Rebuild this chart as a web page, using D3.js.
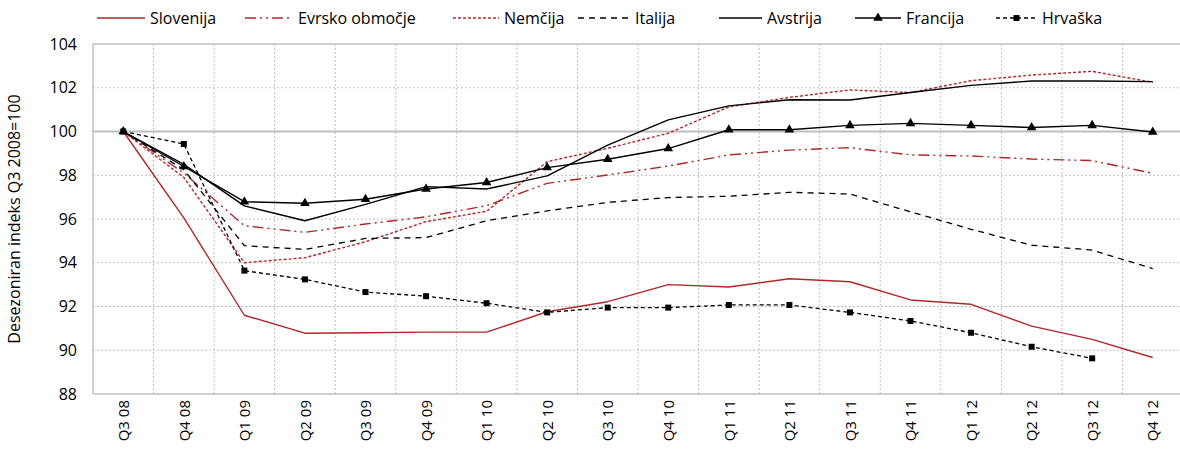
<!DOCTYPE html>
<html><head><meta charset="utf-8">
<script src="https://cdn.jsdelivr.net/npm/d3@7"></script>
<style>
html,body{margin:0;padding:0;background:#fff;}
svg{display:block;font-family:"Open Sans","Noto Sans",sans-serif;}
</style></head>
<body><svg id="c" width="1180" height="452"></svg>
<script>
const categories = ["Q3 08","Q4 08","Q1 09","Q2 09","Q3 09","Q4 09","Q1 10","Q2 10","Q3 10","Q4 10","Q1 11","Q2 11","Q3 11","Q4 11","Q1 12","Q2 12","Q3 12","Q4 12"];
const slovenija = [100,96.05,91.6,90.78,90.8,90.83,90.83,91.76,92.22,93.0,92.89,93.27,93.13,92.3,92.1,91.1,90.5,89.67];
const evrsko = [100,98.1,95.69,95.39,95.77,96.1,96.61,97.63,98.01,98.42,98.93,99.15,99.26,98.93,98.88,98.74,98.67,98.09];
const nemcija = [100,97.9,94.0,94.23,94.96,95.88,96.35,98.62,99.23,99.92,101.13,101.56,101.9,101.78,102.32,102.58,102.75,102.25];
const italija = [100,98.25,94.78,94.61,95.11,95.15,95.92,96.37,96.76,96.98,97.04,97.22,97.14,96.33,95.53,94.8,94.58,93.73];
const avstrija = [100,98.5,96.6,95.92,96.67,97.48,97.37,97.97,99.38,100.53,101.17,101.45,101.44,101.78,102.11,102.31,102.31,102.28];
const francija = [100,98.4,96.79,96.72,96.9,97.37,97.67,98.35,98.73,99.22,100.08,100.08,100.28,100.37,100.28,100.18,100.28,99.98];
const hrvaska = [100,99.43,93.64,93.24,92.66,92.47,92.15,91.73,91.95,91.95,92.07,92.07,91.73,91.34,90.8,90.16,89.63,null];
const yTicks = [88,90,92,94,96,98,100,102,104];
const yTitle = "Desezoniran indeks Q3 2008=100";

const RED = "#b0282b", BLACK = "#000";
const series = [
  {name:"Slovenija", values:slovenija, color:RED, dash:null, w:1.4, marker:null, lx:97, tx:150},
  {name:"Evrsko območje", values:evrsko, color:RED, dash:"11,4,2,4,2,4", w:1.4, marker:null, lx:245, tx:298},
  {name:"Nemčija", values:nemcija, color:RED, dash:"3,2", w:1.4, marker:null, lx:453, tx:504},
  {name:"Italija", values:italija, color:BLACK, dash:"6,5", w:1.3, marker:null, lx:578, tx:635},
  {name:"Avstrija", values:avstrija, color:BLACK, dash:null, w:1.4, marker:null, lx:719, tx:767},
  {name:"Francija", values:francija, color:BLACK, dash:null, w:1.4, marker:"triangle", lx:855, tx:906},
  {name:"Hrvaška", values:hrvaska, color:BLACK, dash:"4,3", w:1.3, marker:"square", lx:996, tx:1042}
];

const svg = d3.select("#c");
const L = 93, R = 1183, T = 44, B = 394;
const x = d3.scalePoint().domain(categories).range([L, R]).padding(0.5);
const y = d3.scaleLinear().domain([88,104]).range([B, T]);
const step = x.step();
const GRID = "#c0c0c0";

svg.append("g").selectAll("line").data(yTicks.filter(v => v!==88 && v!==104 && v!==100)).join("line")
  .attr("x1", L).attr("x2", R).attr("y1", d=>y(d)).attr("y2", d=>y(d))
  .attr("stroke", GRID).attr("stroke-width",1).attr("stroke-dasharray","2,2");
svg.append("g").selectAll("line").data(categories.slice(0,-1)).join("line")
  .attr("x1", d=>x(d)+step/2).attr("x2", d=>x(d)+step/2).attr("y1", T).attr("y2", B)
  .attr("stroke", GRID).attr("stroke-width",1).attr("stroke-dasharray","2,2");
svg.append("line").attr("x1",L).attr("x2",R).attr("y1",T).attr("y2",T).attr("stroke",GRID).attr("stroke-width",1.5);
svg.append("line").attr("x1",L).attr("x2",R).attr("y1",B).attr("y2",B).attr("stroke",GRID).attr("stroke-width",1.5);
svg.append("line").attr("x1",L).attr("x2",L).attr("y1",T).attr("y2",B).attr("stroke",GRID).attr("stroke-width",1.5);
svg.append("line").attr("x1",L).attr("x2",R).attr("y1",y(100)).attr("y2",y(100)).attr("stroke","#bdbdbd").attr("stroke-width",2);

const yAxis = d3.axisLeft(y).tickValues(yTicks).tickSize(0).tickPadding(16).tickFormat(d3.format("d"));
const gy = svg.append("g").attr("transform",`translate(${L},0)`).call(yAxis);
gy.select(".domain").remove();
gy.selectAll("text").attr("font-size",16).attr("fill","#000").attr("font-family","'Open Sans',sans-serif");

const xAxis = d3.axisBottom(x).tickSize(0).tickPadding(0);
const gx = svg.append("g").attr("transform",`translate(0,${B})`).call(xAxis);
gx.select(".domain").remove();
gx.selectAll("text").attr("font-size",15).attr("fill","#000")
  .attr("font-family","'Open Sans',sans-serif")
  .attr("transform","rotate(-90)").attr("text-anchor","end")
  .attr("x",-6).attr("y",0).attr("dy","0.35em");

svg.append("text").attr("transform",`translate(20,${(T+B)/2}) rotate(-90)`)
  .attr("text-anchor","middle").attr("font-size",16).text(yTitle);

const line = d3.line().defined(d=>d.v!=null).x(d=>x(d.c)).y(d=>y(d.v));
const tri = d3.symbol().type(d3.symbolTriangle).size(40);
const sq = d3.symbol().type(d3.symbolSquare).size(36);
series.forEach(s=>{
  const pts = categories.map((c,i)=>({c, v:s.values[i]}));
  svg.append("path").datum(pts).attr("d",line).attr("fill","none")
    .attr("stroke",s.color).attr("stroke-width",s.w)
    .attr("stroke-dasharray",s.dash).attr("stroke-linejoin","round");
  if(s.marker){
    svg.append("g").selectAll("path").data(pts.filter(d=>d.v!=null)).join("path")
      .attr("d", s.marker==="triangle"?tri:sq)
      .attr("transform",d=>`translate(${x(d.c)},${y(d.v)})`).attr("fill","#000");
  }
});

const lg = svg.append("g");
series.forEach(s=>{
  const ly = 18;
  lg.append("line").attr("x1",s.lx).attr("x2",s.tx-5).attr("y1",ly).attr("y2",ly)
    .attr("stroke",s.color).attr("stroke-width",s.w).attr("stroke-dasharray",s.dash);
  if(s.marker){
    lg.append("path").attr("d", s.marker==="triangle"?tri:sq)
      .attr("transform",`translate(${(s.lx+s.tx-5)/2},${ly})`).attr("fill","#000");
  }
  lg.append("text").attr("x",s.tx).attr("y",ly).attr("dy","0.35em")
    .attr("font-size",16).text(s.name);
});
</script></body></html>
